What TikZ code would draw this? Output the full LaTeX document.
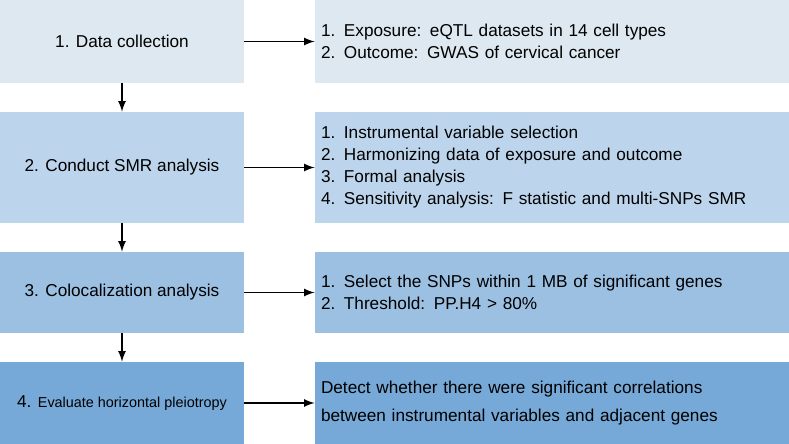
\documentclass[tikz,border=0pt]{standalone}
\usepackage{fontspec}
\setmainfont{Liberation Sans}
\usetikzlibrary{positioning}
\definecolor{rowa}{HTML}{DDE8F0}
\definecolor{rowb}{HTML}{BDD5EC}
\definecolor{rowc}{HTML}{9CC0E2}
\definecolor{rowd}{HTML}{76A9D7}
\begin{document}
\begin{tikzpicture}
		[
		x=0.5pt,y=-0.5pt,
		font=\fontsize{8.6}{11}\selectfont,
		arrow/.style={draw,-latex,thick}
		]
		
		% Box styles
		\tikzset{step box/.style={inner sep=0,minimum width=122pt,align=center}}
		\tikzset{info box/.style={inner sep=0,minimum width=237pt,align=left,text width=231pt}}
		\useasboundingbox (0,0) rectangle (789,444);
		
		% Left column
		\node(s1)[step box,fill=rowa,minimum height=41.5pt]at(122,41.5){1. Data collection};
		\node(s2)[step box,fill=rowb,minimum height=55.5pt]at(122,167.5){2. Conduct SMR analysis};
		\node(s3)[step box,fill=rowc,minimum height=40.5pt]at(122,292.5){3. Colocalization analysis};
		\node(s4)[step box,fill=rowd,minimum height=41pt]at(122,403){4. {\fontsize{7.2}{9}\selectfont Evaluate horizontal pleiotropy}};
		
		% Right column
		\node(d1)[info box,fill=rowa,minimum height=41.5pt]at(552,41.5){1. Exposure: eQTL datasets in 14 cell types\\2. Outcome: GWAS of cervical cancer};
		\node(d2)[info box,fill=rowb,minimum height=55.5pt]at(552,167.5){1. Instrumental variable selection\\2. Harmonizing data of exposure and outcome\\3. Formal analysis\\4. Sensitivity analysis: F statistic and multi-SNPs SMR};
		\node(d3)[info box,fill=rowc,minimum height=40.5pt]at(552,292.5){1. Select the SNPs within 1 MB of significant genes\\2. Threshold: PP.H4 > 80\%\\[4pt]};
		\node(d4)[info box,fill=rowd,minimum height=41pt]at(552,403){Detect whether there were significant correlations\\[3pt]between instrumental variables and adjacent genes};
		
		% Arrows
		\foreach \x in {1,...,4} \draw[arrow](s\x)--(d\x);
		\draw[arrow](s1)--(s2);
		\draw[arrow](s2)--(s3);
		\draw[arrow](s3)--(s4);
		\end{tikzpicture}
\end{document}
